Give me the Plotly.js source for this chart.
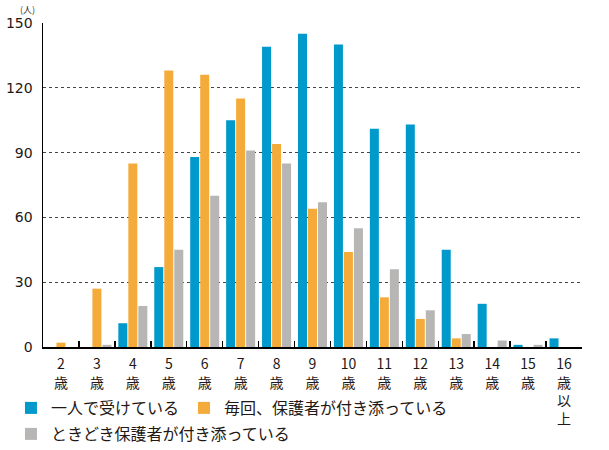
<!DOCTYPE html>
<html>
<head>
<meta charset="utf-8">
<script src="https://cdn.plot.ly/plotly-3.0.1.min.js"></script>
<style>html,body{margin:0;padding:0;background:#fff;}#chart{width:609px;height:450px;}</style>
</head>
<body>
<div id="chart"></div>
<script>
const categories = ["2<br>歳","3<br>歳","4<br>歳","5<br>歳","6<br>歳","7<br>歳","8<br>歳","9<br>歳","10<br>歳","11<br>歳","12<br>歳","13<br>歳","14<br>歳","15<br>歳","16<br>歳<br>以<br>上"];
const seriesNames = ["一人で受けている","毎回、保護者が付き添っている","ときどき保護者が付き添っている"];
const alone = [0,0,11,37,88,105,139,145,140,101,103,45,20,1,4];
const everyTime = [2,27,85,128,126,115,94,64,44,23,13,4,0,0,0];
const sometimes = [0,1,19,45,70,91,85,67,55,36,17,6,3,1,0];
const yTicks = [0,30,60,90,120,150];
const colors = ["#0099CC","#F5AB3A","#B8B5B5"];
const legendGroups = ["legend","legend","legend2"];

const font = "'Noto Sans CJK JP', 'Noto Sans', sans-serif";
const data = [alone, everyTime, sometimes].map((vals, i) => ({
  type: "bar",
  x: categories,
  y: vals,
  name: seriesNames[i],
  legend: legendGroups[i],
  marker: {color: colors[i], line: {width: 0}},
  hoverinfo: "none"
}));

const legendBase = {
  orientation: "h",
  xref: "container", yref: "container",
  x: 0.018, xanchor: "left",
  yanchor: "middle",
  font: {size: 16, family: font, color: "#231815"},
  itemwidth: 30,
  traceorder: "normal",
  bgcolor: "rgba(0,0,0,0)"
};

const layout = {
  width: 609, height: 450,
  margin: {l: 43, r: 27, t: 23, b: 103},
  paper_bgcolor: "#fff", plot_bgcolor: "#fff",
  font: {family: font, color: "#231815"},
  barmode: "group",
  bargap: 0.165,
  bargroupgap: 0.1,
  showlegend: true,
  legend: Object.assign({}, legendBase, {y: 1 - 408/450}),
  legend2: Object.assign({}, legendBase, {y: 1 - 434/450}),
  xaxis: {
    type: "category",
    showline: true, linecolor: "#000", linewidth: 1.5,
    ticks: "inside", tickson: "boundaries", ticklen: 6, tickwidth: 1.5, tickcolor: "#000",
    ticklabelstandoff: 4,
    tickfont: {size: 14, family: font, color: "#231815"},
    showgrid: false, zeroline: false,
    automargin: false,
    fixedrange: true
  },
  yaxis: {
    range: [0, 150],
    tickvals: yTicks,
    showline: true, linecolor: "#000", linewidth: 1.5,
    ticks: "", ticklabelstandoff: 6,
    tickfont: {size: 14, family: "'DejaVu Sans', sans-serif", color: "#231815"},
    showgrid: true, gridcolor: "#444", gridwidth: 1, griddash: "dot",
    zeroline: false,
    automargin: false,
    fixedrange: true
  },
  annotations: [{
    text: "(人)", xref: "paper", yref: "paper",
    x: -0.028, y: 1 + 14/324, xanchor: "center", yanchor: "middle",
    showarrow: false, font: {size: 9, family: font, color: "#333"}
  }]
};

Plotly.newPlot("chart", data, layout, {displayModeBar: false, staticPlot: true});
</script>
</body>
</html>
